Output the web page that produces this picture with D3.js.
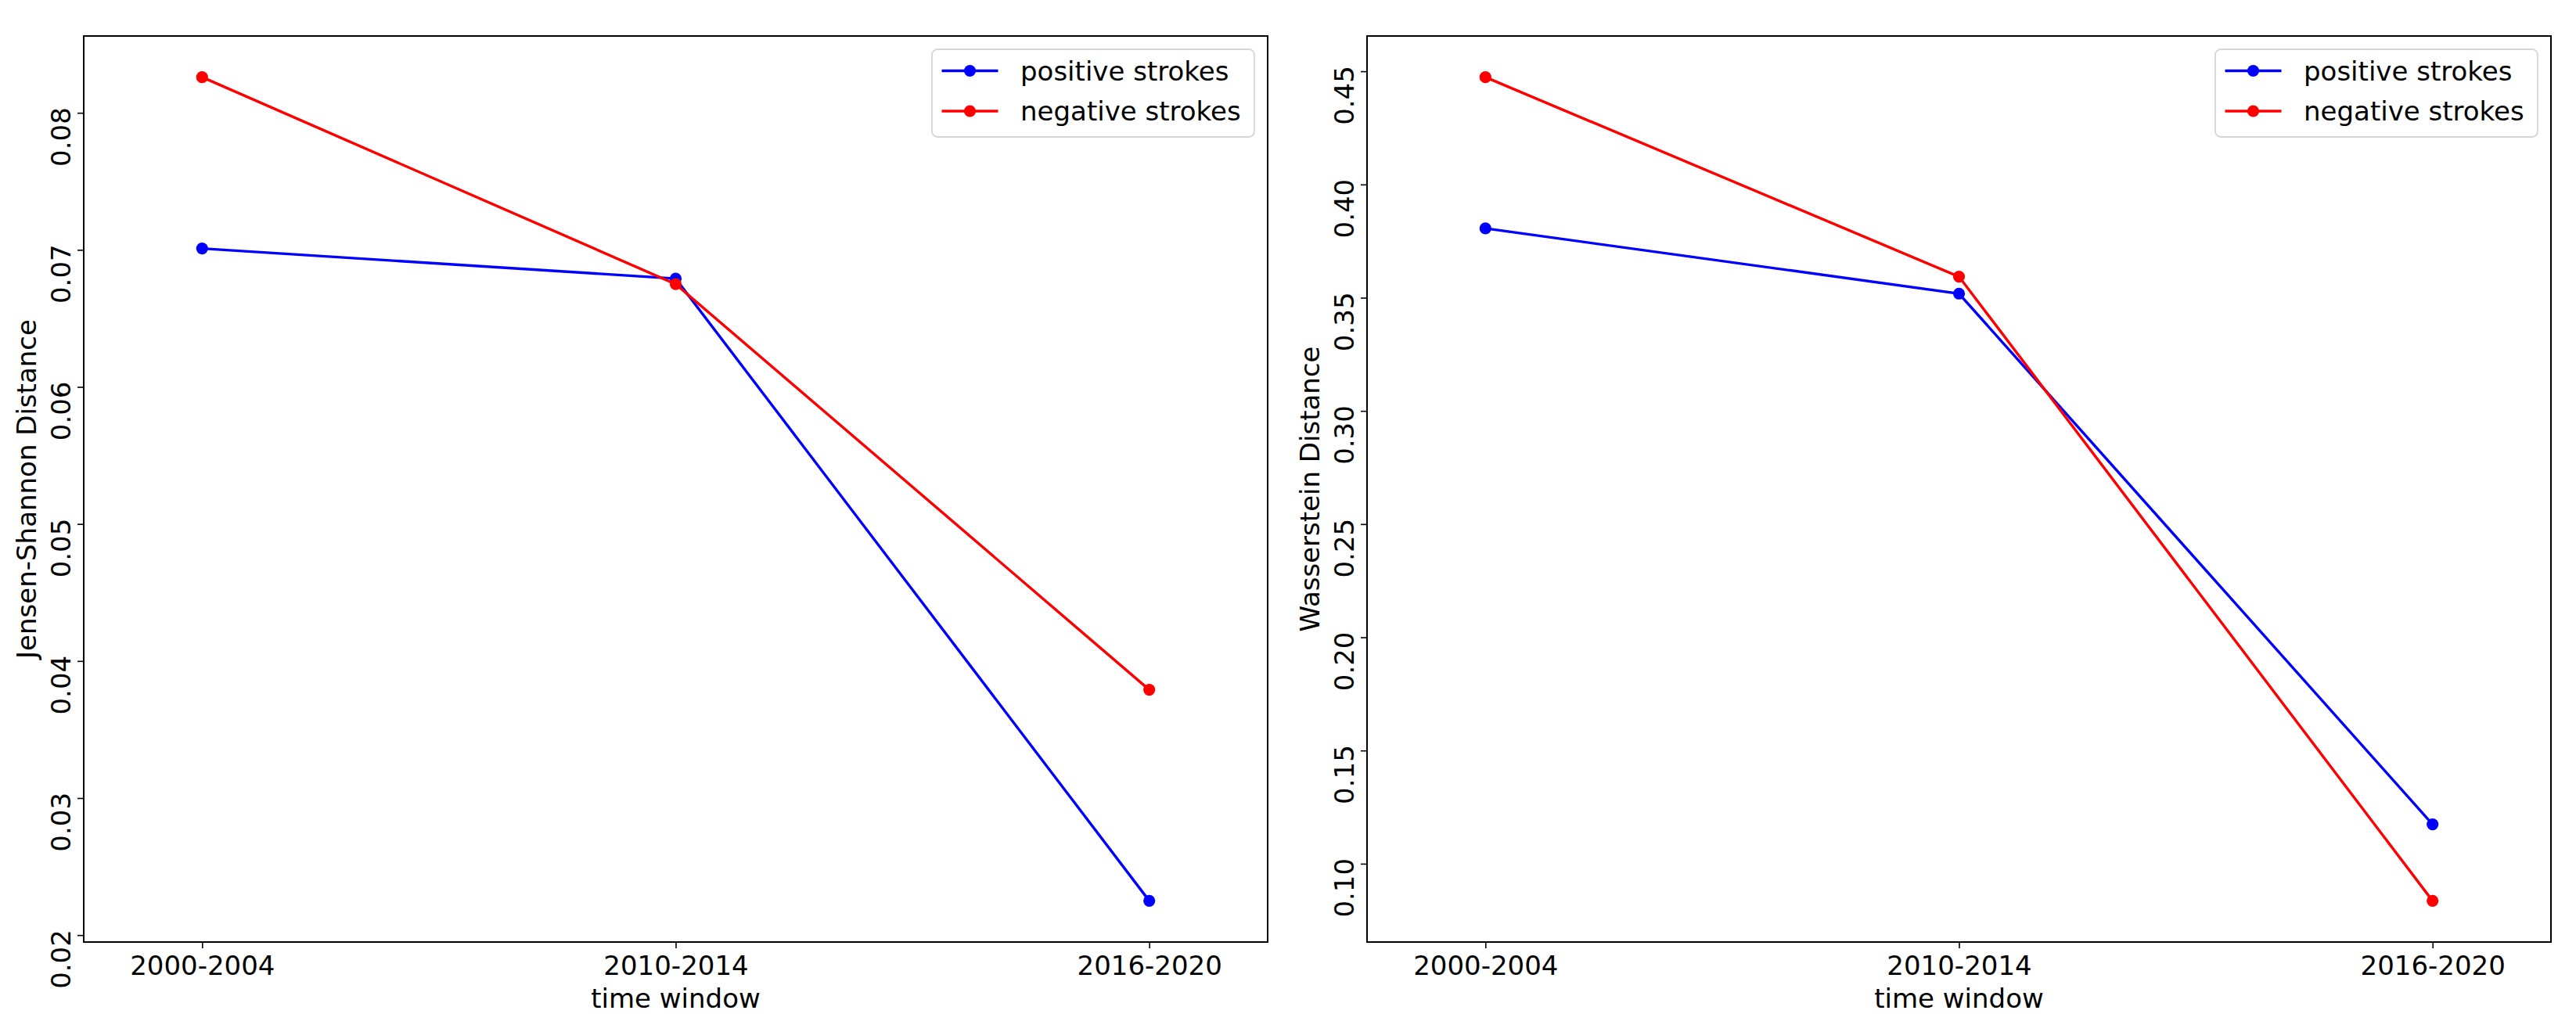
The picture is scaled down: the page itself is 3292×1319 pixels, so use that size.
<!DOCTYPE html>
<html>
<head>
<meta charset="utf-8">
<script src="https://cdn.jsdelivr.net/npm/d3@7"></script>
<style>
  body { margin: 0; background: #fff; }
  svg { display: block; }
  text { font-family: "DejaVu Sans", sans-serif; fill: #000; }
</style>
</head>
<body>
<svg id="chart" width="3292" height="1319"></svg>
<script>
// ===== DATA =====
const timeWindows = ['2000-2004', '2010-2014', '2016-2020'];
const seriesNames = ['positive strokes', 'negative strokes'];
const jsPositive = [0.0701, 0.0679, 0.0225];
const jsNegative = [0.0826, 0.0675, 0.0379];
const wsPositive = [0.3806, 0.3518, 0.1174];
const wsNegative = [0.4474, 0.3593, 0.0836];
const jsTicks = [0.02, 0.03, 0.04, 0.05, 0.06, 0.07, 0.08];
const wsTicks = [0.10, 0.15, 0.20, 0.25, 0.30, 0.35, 0.40, 0.45];

const colors = ['#0000ff', '#ff0000'];
const fontSize = 34;

const svg = d3.select('#chart');

function drawPanel(left, top, width, height, series, ticks, fmt, yLabel) {
    const g = svg.append('g').attr('transform', `translate(${left},${top})`);

    const x = d3.scalePoint().domain(timeWindows).range([0, width]).padding(0.25);

    // matplotlib-like autoscale with 5% margins
    const all = series.flat();
    const lo = d3.min(all), hi = d3.max(all);
    const m = (hi - lo) * 0.05;
    const y = d3.scaleLinear().domain([lo - m, hi + m]).range([height, 0]);

    // x axis
    const xAxisG = g.append('g')
        .attr('transform', `translate(0,${height})`)
        .call(d3.axisBottom(x).tickSize(8).tickSizeOuter(0).tickPadding(8));
    xAxisG.select('.domain').remove();
    xAxisG.selectAll('line').attr('stroke', '#000').attr('stroke-width', 1.6);
    xAxisG.selectAll('text')
        .attr('dy', 0)
        .attr('y', 42)
        .style('font-size', `${fontSize}px`)
        .style('font-family', '"DejaVu Sans", sans-serif')
        .attr('fill', '#000');

    // y axis with rotated tick labels
    const yAxisG = g.append('g')
        .call(d3.axisLeft(y).tickValues(ticks).tickFormat(fmt).tickSize(8).tickSizeOuter(0));
    yAxisG.select('.domain').remove();
    yAxisG.selectAll('line').attr('stroke', '#000').attr('stroke-width', 1.6);
    yAxisG.selectAll('text')
        .attr('x', 0)
        .attr('dy', 0)
        .attr('text-anchor', 'end')
        .attr('transform', 'translate(-17,-7.5) rotate(-90)')
        .style('font-size', `${fontSize}px`)
        .style('font-family', '"DejaVu Sans", sans-serif')
        .attr('fill', '#000');

    // lines and markers
    const line = d3.line()
        .x((d, i) => x(timeWindows[i]))
        .y(d => y(d));

    series.forEach((vals, si) => {
        g.append('path')
            .datum(vals)
            .attr('d', line)
            .attr('fill', 'none')
            .attr('stroke', colors[si])
            .attr('stroke-width', 3.4);
        g.selectAll(`.pt-${si}`)
            .data(vals)
            .join('circle')
            .attr('class', `pt-${si}`)
            .attr('cx', (d, i) => x(timeWindows[i]))
            .attr('cy', d => y(d))
            .attr('r', 7.6)
            .attr('fill', colors[si]);
    });

    // frame
    g.append('rect')
        .attr('width', width)
        .attr('height', height)
        .attr('fill', 'none')
        .attr('stroke', '#000')
        .attr('stroke-width', 2);

    // axis labels
    g.append('text')
        .attr('x', width / 2)
        .attr('y', height + 84)
        .attr('text-anchor', 'middle')
        .style('font-size', `${fontSize}px`)
        .text('time window');

    g.append('text')
        .attr('transform', `translate(-61,${height / 2}) rotate(-90)`)
        .attr('text-anchor', 'middle')
        .style('font-size', `${fontSize}px`)
        .text(yLabel);

    // legend
    const lw = 412, lh = 112;
    const lg = g.append('g').attr('transform', `translate(${width - 17 - lw},17)`);
    lg.append('rect')
        .attr('width', lw)
        .attr('height', lh)
        .attr('rx', 7)
        .attr('fill', '#fff')
        .attr('fill-opacity', 0.8)
        .attr('stroke', '#d6d6d6')
        .attr('stroke-width', 1.8);
    seriesNames.forEach((name, i) => {
        const cy = 27.5 + i * 51.5;
        lg.append('line')
            .attr('x1', 12.5).attr('x2', 84.5)
            .attr('y1', cy).attr('y2', cy)
            .attr('stroke', colors[i])
            .attr('stroke-width', 3.4);
        lg.append('circle')
            .attr('cx', 48.5).attr('cy', cy)
            .attr('r', 7.6)
            .attr('fill', colors[i]);
        lg.append('text')
            .attr('x', 113)
            .attr('y', cy + 12)
            .style('font-size', `${fontSize}px`)
            .text(name);
    });
}

drawPanel(107, 46, 1513, 1158, [jsPositive, jsNegative], jsTicks, d3.format('.2f'), 'Jensen-Shannon Distance');
drawPanel(1747, 46, 1513, 1158, [wsPositive, wsNegative], wsTicks, d3.format('.2f'), 'Wasserstein Distance');
</script>
</body>
</html>
